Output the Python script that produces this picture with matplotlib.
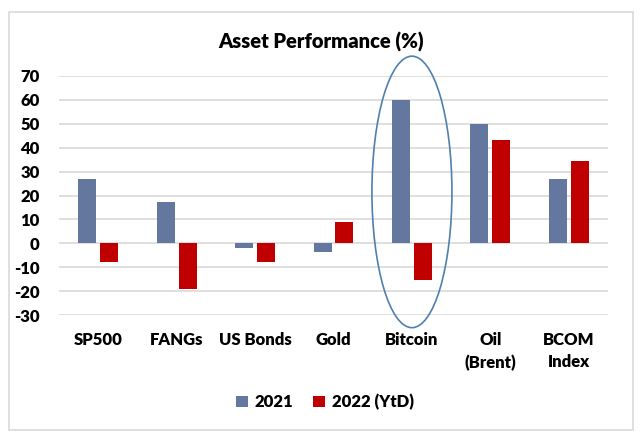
import numpy as np
import matplotlib
matplotlib.use("Agg")
import matplotlib.pyplot as plt
from matplotlib.patches import Ellipse, Rectangle

# podaci procitani sa slike
kategorije = ["SP500", "FANGs", "US Bonds", "Gold", "Bitcoin", "Oil\n(Brent)", "BCOM\nIndex"]
vrijednosti_2021 = [27, 17.2, -1.9, -3.5, 60, 50, 27]
vrijednosti_2022 = [-7.8, -19.3, -7.8, 9.1, -15.5, 43.3, 34.6]
y_oznake = [70, 60, 50, 40, 30, 20, 10, 0, -10, -20, -30]

plt.rcParams["font.family"] = ["Lato", "DejaVu Sans"]
plt.rcParams["font.weight"] = "bold"

fig = plt.figure(figsize=(6.4, 4.43), dpi=100)
fig.patch.set_facecolor("white")

# okvir oko grafa
okvir = Rectangle((9 / 640, 1 - 430 / 443), 624 / 640, 418 / 443, transform=fig.transFigure,
                  fill=False, edgecolor="#d9d9d9", linewidth=1.2)
fig.patches.append(okvir)

ax = fig.add_axes([59 / 640, 1 - 315 / 443, 549 / 640, 239 / 443])
x = np.arange(len(kategorije))
sirina = 0.23
ax.bar(x - 0.14, vrijednosti_2021, sirina, color="#64779f", label="2021", zorder=3)
ax.bar(x + 0.14, vrijednosti_2022, sirina, color="#c00000", label="2022 (YtD)", zorder=3)

ax.set_xlim(-0.5, len(kategorije) - 0.5)
ax.set_ylim(-30, 70)
ax.set_yticks(y_oznake)
ax.set_yticklabels([str(v) for v in y_oznake])
ax.set_xticks(x)
ax.set_xticklabels(kategorije, linespacing=1.5)
ax.tick_params(axis="y", length=0, pad=14, labelsize=12)
ax.tick_params(axis="x", length=0, pad=12, labelsize=12)
for lab in ax.get_yticklabels() + ax.get_xticklabels():
    lab.set_fontweight("heavy")
ax.grid(axis="y", color="#d9d9d9", linewidth=1.2, zorder=0)
for s in ax.spines.values():
    s.set_visible(False)

# elipsa oko Bitcoina
elipsa = Ellipse((4.0, 21.5), 1.02, 113.6, fill=False, edgecolor="#4f81ad",
                 linewidth=1.2, clip_on=False, zorder=4)
ax.add_patch(elipsa)

fig.text(321 / 640, 1 - 42 / 443, "Asset Performance (%)", ha="center", va="center",
         fontsize=14.5, fontweight="heavy")

fig.legend(loc="center", bbox_to_anchor=(325 / 640, 1 - 402 / 443), ncol=2, frameon=False,
           handlelength=0.7, handleheight=0.7, handletextpad=0.4, columnspacing=1.2,
           prop={"size": 12, "weight": "heavy"})

fig.savefig("out.png", dpi=100, facecolor="white")
